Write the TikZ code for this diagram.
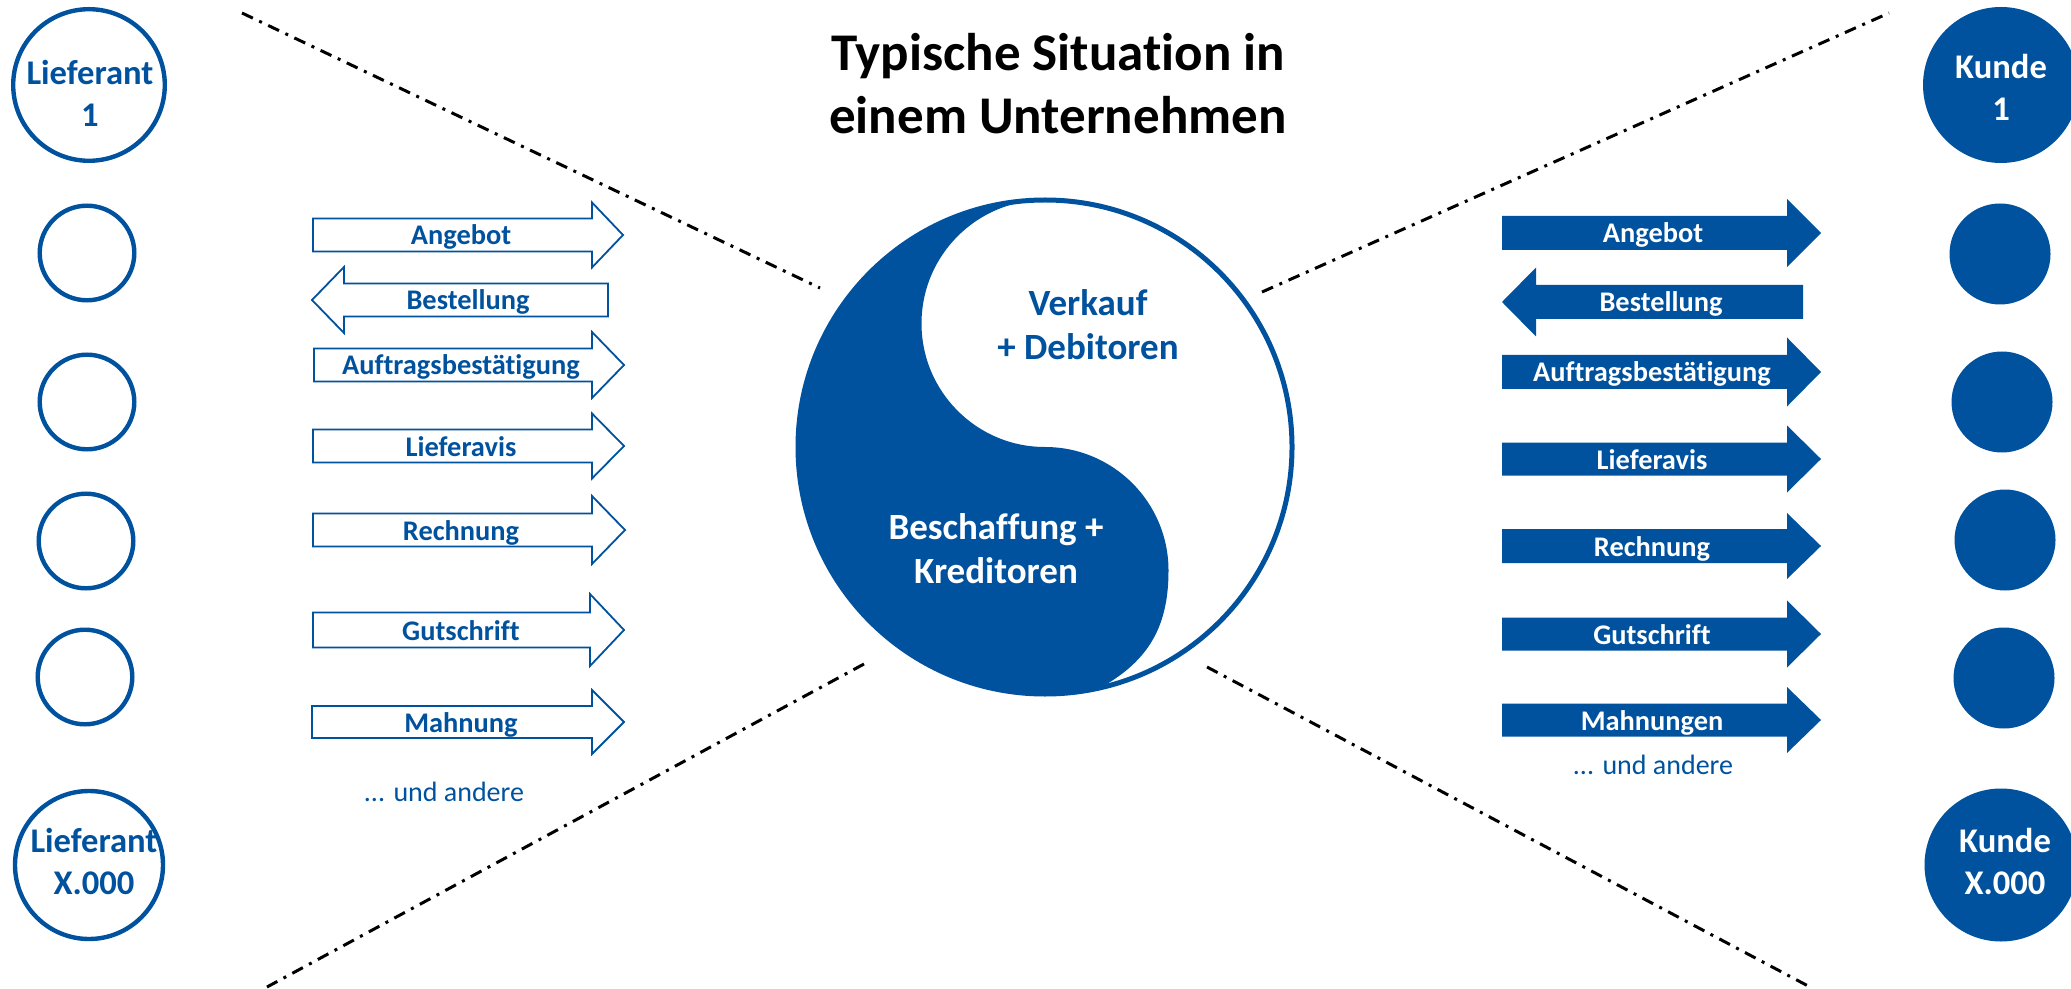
\documentclass[tikz,border=0pt]{standalone}
\usepackage{fontspec}
\setmainfont{Carlito}[Ligatures=NoCommon]
\definecolor{db}{RGB}{0,82,158}
\tikzset{
  dashdot/.style={line width=1.5pt, dash pattern=on 6pt off 3.5pt on 1.5pt off 3.5pt},
  ring/.style={circle, draw=db, line width=2.2pt, inner sep=0pt},
  disc/.style={circle, fill=db, inner sep=0pt},
  ctxt/.style={font=\bfseries\fontsize{17.3}{21}\selectfont, align=center, inner sep=0pt},
  lbl/.style={font=\bfseries\fontsize{14.2}{17}\selectfont, inner sep=0pt, anchor=base},
  more/.style={font=\fontsize{14}{17}\selectfont, text=db, inner sep=0pt, anchor=base},
  yytxt/.style={font=\bfseries\fontsize{18.5}{22}\selectfont, align=center, inner sep=0pt},
  outarrow/.style={draw=db, line width=0.9pt, fill=white},
  fullarrow/.style={fill=db},
  pics/rarrow/.style n args={4}{code={%
    \path[pic actions] (0,-#3) -- (#1,-#3) -- (#1,-#4) -- ({#1+#2},0) -- (#1,#4) -- (#1,#3) -- (0,#3) -- cycle;}},
  pics/larrow/.style n args={4}{code={%
    \path[pic actions] (0,0) -- (#2,-#4) -- (#2,-#3) -- ({#1+#2},-#3) -- ({#1+#2},#3) -- (#2,#3) -- (#2,#4) -- cycle;}},
}
\begin{document}
\begin{tikzpicture}[x=0.5pt,y=-0.5pt]
\useasboundingbox (0,0) rectangle (2071,989);
\clip (0,0) rectangle (2071,989);

% title
\node[font=\bfseries\fontsize{26.5}{31.5}\selectfont, align=center, inner sep=0pt] (title) at (1058,84)
  {Typische Situation in\\einem Unternehmen};

% dash-dot separators
\coordinate (tlA) at (242,13);   \coordinate (tlB) at (820,288);
\coordinate (blA) at (864,664);  \coordinate (blB) at (267,987);
\coordinate (trA) at (1262,292); \coordinate (trB) at (1889,13);
\coordinate (brA) at (1207,667); \coordinate (brB) at (1810,987);
\draw[dashdot] (tlA) -- (tlB);
\draw[dashdot] (blA) -- (blB);
\draw[dashdot] (trA) -- (trB);
\draw[dashdot] (brA) -- (brB);

% yin-yang
\fill[db] (1045,200) arc[start angle=270, end angle=77, radius=247]
  .. controls (1150,660) and (1168.5,625) .. (1168.5,570.5)
  arc[start angle=0, end angle=-90, radius=123.5]
  arc[start angle=90, end angle=270, radius=123.5] -- cycle;
\node[circle, draw=db, line width=2.5pt, minimum size=247pt, inner sep=0pt] (yy) at (1045,447) {};
\node[yytxt, text=db] (vk) at (1088,325) {Verkauf\\+ Debitoren};
\node[yytxt, text=white] (bk) at (996,549) {Beschaffung +\\Kreditoren};

% suppliers
\node[ring, minimum size=75.8pt] (l1) at (89,85) {};
\node[ctxt, text=db] (l1t) at (90,93) {Lieferant\\1};
\node[ring, minimum size=47.3pt] (l2) at (87,253) {};
\node[ring, minimum size=47.3pt] (l3) at (87,402) {};
\node[ring, minimum size=47.3pt] (l4) at (86,541) {};
\node[ring, minimum size=47.3pt] (l5) at (85,677) {};
\node[ring, minimum size=74pt] (lx) at (89,865) {};
\node[ctxt, text=db] (lxt) at (94,861) {Lieferant\\X.000};

% customers
\node[disc, minimum size=78pt] (k1) at (2001,85) {};
\node[ctxt, text=white] (k1t) at (2001,87) {Kunde\\1};
\node[disc, minimum size=50.5pt] (k2) at (2000,254) {};
\node[disc, minimum size=50.5pt] (k3) at (2002,402) {};
\node[disc, minimum size=50.5pt] (k4) at (2005,540) {};
\node[disc, minimum size=50.5pt] (k5) at (2004,678) {};
\node[disc, minimum size=76.5pt] (kx) at (2001,865) {};
\node[ctxt, text=white] (kxt) at (2005,861) {Kunde\\X.000};

% left arrows (outlined)
\pic[outarrow] at (313,235) {rarrow={279}{31}{16.5}{32.5}};
\pic[outarrow] at (312,300) {larrow={264}{32}{16.5}{33}};
\pic[outarrow] at (314,365) {rarrow={278}{32}{16.5}{33}};
\pic[outarrow] at (313,446) {rarrow={279}{32}{16.5}{32.5}};
\pic[outarrow] at (313,530) {rarrow={279}{33}{16.5}{34}};
\pic[outarrow] at (313,630) {rarrow={277}{34}{17.5}{36}};
\pic[outarrow] at (312,722) {rarrow={280}{32}{16}{32}};
\node[lbl, text=db] (la1) at (461,245) {Angebot};
\node[lbl, text=db] (la2) at (468,310) {Bestellung};
\node[lbl, text=db] (la3) at (461,375) {Auftragsbestätigung};
\node[lbl, text=db] (la4) at (461,456) {Lieferavis};
\node[lbl, text=db] (la5) at (461,540) {Rechnung};
\node[lbl, text=db] (la6) at (461,640) {Gutschrift};
\node[lbl, text=db] (la7) at (461,732) {Mahnung};
\node[more] (lm) at (444,801) {... und andere};

% right arrows (filled)
\pic[fullarrow] at (1502,233) {rarrow={285}{34}{17}{34}};
\pic[fullarrow] at (1502,302) {larrow={267}{34}{17}{34.5}};
\pic[fullarrow] at (1502,372) {rarrow={285}{34}{17}{34.5}};
\pic[fullarrow] at (1502,459) {rarrow={285}{34}{16.5}{33.5}};
\pic[fullarrow] at (1502,546) {rarrow={285}{34}{17}{33}};
\pic[fullarrow] at (1502,634) {rarrow={285}{34}{16.5}{33.5}};
\pic[fullarrow] at (1502,720) {rarrow={285}{34}{16.5}{33}};
\node[lbl, text=white] (ra1) at (1653,243) {Angebot};
\node[lbl, text=white] (ra2) at (1661,312) {Bestellung};
\node[lbl, text=white] (ra3) at (1652,382) {Auftragsbestätigung};
\node[lbl, text=white] (ra4) at (1652,469) {Lieferavis};
\node[lbl, text=white] (ra5) at (1652,556) {Rechnung};
\node[lbl, text=white] (ra6) at (1652,644) {Gutschrift};
\node[lbl, text=white] (ra7) at (1652,730) {Mahnungen};
\node[more] (rm) at (1653,774) {... und andere};
\end{tikzpicture}
\end{document}
